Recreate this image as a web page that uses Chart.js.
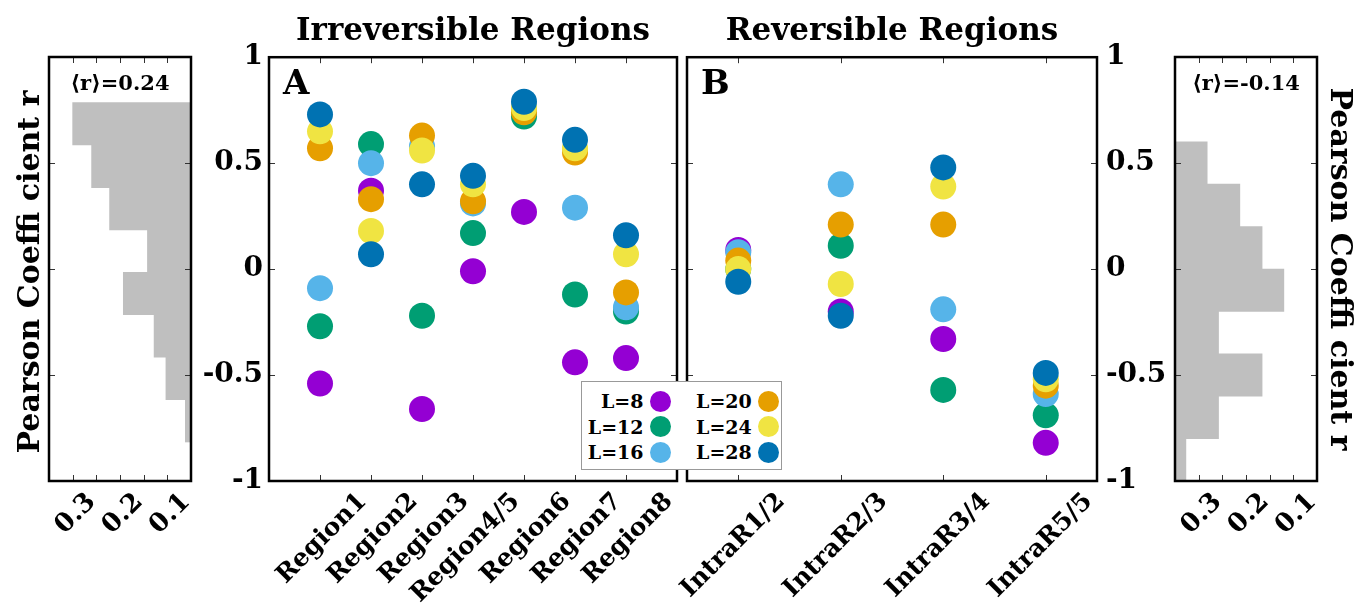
<!DOCTYPE html>
<html>
<head>
<meta charset="utf-8">
<script src="https://cdn.jsdelivr.net/npm/chart.js@4.4.1/dist/chart.umd.min.js"></script>
<style>
  html, body { margin: 0; padding: 0; background: #fff; }
  #wrap { position: relative; width: 1359px; height: 612px; overflow: hidden; }
  #wrap canvas { position: absolute; left: 0; top: 0; }
  #legend { position: absolute; left: 581px; top: 381px; width: 201px; height: 89px; box-sizing: border-box;
            border: 1px solid #999; background: #fff; font: bold 19px "DejaVu Serif"; z-index: 5; }
  #legend .item { position: absolute; height: 25px; display: flex; align-items: center; justify-content: flex-end; }
  #legend .dot { width: 21px; height: 21px; border-radius: 50%; margin-left: 6px; }
</style>
</head>
<body>
<div id="wrap">
  <canvas id="histL" width="1359" height="612"></canvas>
  <canvas id="panelA" width="1359" height="612"></canvas>
  <canvas id="panelB" width="1359" height="612"></canvas>
  <canvas id="histR" width="1359" height="612"></canvas>
  <div id="legend"></div>
</div>
<script>
const regionsA = ['Region1', 'Region2', 'Region3', 'Region4/5', 'Region6', 'Region7', 'Region8'];
const regionsB = ['IntraR1/2', 'IntraR2/3', 'IntraR3/4', 'IntraR5/5'];
const sizes = ['L=8', 'L=12', 'L=16', 'L=20', 'L=24', 'L=28'];
const colors = ['#9400D3', '#009E73', '#56B4E9', '#E69F00', '#F0E442', '#0072B2'];

// irreversible regions, Pearson r per system size
const irrevL8  = [-0.54, 0.37, -0.66, -0.01, 0.27, -0.44, -0.42];
const irrevL12 = [-0.27, 0.59, -0.22, 0.17, 0.72, -0.12, -0.20];
const irrevL16 = [-0.09, 0.50, 0.58, 0.31, 0.76, 0.29, -0.18];
const irrevL20 = [0.57, 0.33, 0.63, 0.32, 0.74, 0.55, -0.11];
const irrevL24 = [0.65, 0.18, 0.56, 0.40, 0.76, 0.57, 0.07];
const irrevL28 = [0.73, 0.07, 0.40, 0.44, 0.79, 0.61, 0.16];

// reversible regions
const revL8  = [0.09, -0.20, -0.33, -0.82];
const revL12 = [0.00, 0.11, -0.57, -0.69];
const revL16 = [0.08, 0.40, -0.19, -0.59];
const revL20 = [0.04, 0.21, 0.21, -0.55];
const revL24 = [0.00, -0.07, 0.39, -0.52];
const revL28 = [-0.06, -0.22, 0.48, -0.49];

// histograms of r (bin centres, bar ends on the reversed axis)
const histLeftBins = [0.685, 0.484, 0.284, 0.084, -0.116, -0.316, -0.516, -0.716];
const histLeftVals = [0.30, 0.26, 0.222, 0.142, 0.193, 0.128, 0.103, 0.062];
const histRightBins = [0.5, 0.3, 0.1, -0.1, -0.3, -0.5, -0.7, -0.9];
const histRightVals = [0.282, 0.213, 0.166, 0.120, 0.258, 0.166, 0.258, 0.327];
const histTicks = [0.1, 0.2, 0.3];
const meanLeft = '⟨r⟩=0.24';
const meanRight = '⟨r⟩=-0.14';
const yTitle = 'Pearson Coeﬃ cient r';

const FAMILY = '"DejaVu Serif", serif';

// box round the plot area, inward ticks, panel letter
const frame = {
  id: 'frame',
  afterDatasetsDraw(chart, args, o) {
    const { ctx, chartArea: a, scales } = chart;
    const x = scales.x, y = scales.y;
    ctx.save();
    ctx.strokeStyle = '#333';
    ctx.lineWidth = 1;
    ctx.beginPath();
    x.ticks.forEach(t => {
      if (t.value <= x.min + 1e-9 || t.value >= x.max - 1e-9) return;
      const p = Math.round(x.getPixelForValue(t.value)) + 0.5;
      ctx.moveTo(p, a.top); ctx.lineTo(p, a.top + 6);
      ctx.moveTo(p, a.bottom); ctx.lineTo(p, a.bottom - 6);
    });
    y.ticks.forEach(t => {
      if (t.value <= y.min + 1e-9 || t.value >= y.max - 1e-9) return;
      const p = Math.round(y.getPixelForValue(t.value)) + 0.5;
      ctx.moveTo(a.left, p); ctx.lineTo(a.left + 6, p);
      ctx.moveTo(a.right, p); ctx.lineTo(a.right - 6, p);
    });
    ctx.stroke();
    ctx.strokeStyle = '#000';
    ctx.lineWidth = 2.5;
    ctx.strokeRect(a.left, a.top, a.right - a.left, a.bottom - a.top);
    if (o.text) {
      ctx.fillStyle = '#000';
      ctx.font = o.font;
      ctx.textBaseline = 'alphabetic';
      if (o.center) {
        ctx.textAlign = 'center';
        ctx.fillText(o.text, (a.left + a.right) / 2, a.top + o.dy);
      } else {
        ctx.textAlign = 'left';
        ctx.fillText(o.text, a.left + o.dx, a.top + o.dy);
      }
    }
    ctx.restore();
  }
};

function scatterConfig(cats, series, title, letter, xmin, xmax, ySide, pad) {
  return {
    type: 'scatter',
    data: {
      datasets: series.map((vals, i) => ({
        label: sizes[i],
        order: sizes.length - i,
        data: vals.map((v, j) => ({ x: j + 1, y: v })),
        backgroundColor: colors[i],
        borderWidth: 0,
        pointRadius: 13,
        pointHoverRadius: 13
      }))
    },
    options: {
      responsive: false,
      animation: false,
      events: [],
      layout: { padding: pad },
      plugins: {
        legend: { display: false },
        tooltip: { enabled: false },
        title: {
          display: true, text: title, fullSize: false, color: '#000',
          font: { family: FAMILY, weight: 'bold', size: 31, lineHeight: 1.2 },
          padding: { top: 0, bottom: 7 }
        },
        frame: { text: letter, font: 'bold 34px ' + FAMILY, dx: 14, dy: 37 }
      },
      scales: {
        x: {
          type: 'linear', min: xmin, max: xmax,
          afterBuildTicks: s => { s.ticks = cats.map((c, i) => ({ value: i + 1 })); },
          ticks: {
            callback: v => cats[v - 1], autoSkip: false, minRotation: 45, maxRotation: 45,
            labelOffset: 43, color: '#000', padding: 6,
            font: { family: FAMILY, weight: 'bold', size: 25 }
          },
          grid: { display: false, drawTicks: false },
          border: { display: false },
          afterFit: s => { s.height = 131; }
        },
        y: {
          type: 'linear', position: ySide, min: -1, max: 1,
          ticks: {
            stepSize: 0.5, color: '#000', padding: ySide === 'left' ? 6 : 9,
            font: { family: FAMILY, weight: 'bold', size: 28 },
            callback: v => String(Number(v.toFixed(2)))
          },
          grid: { display: false, drawTicks: false },
          border: { display: false },
          afterFit: s => { s.width = 70; }
        }
      }
    },
    plugins: [frame]
  };
}

function histConfig(bins, vals, base, side, mean, pad, title, titlePad) {
  return {
    type: 'bar',
    data: {
      datasets: [{
        data: bins.map((b, i) => ({ y: b, x: [base, vals[i]] })),
        backgroundColor: '#bfbfbf',
        borderWidth: 0,
        barPercentage: 1,
        categoryPercentage: 1
      }]
    },
    options: {
      indexAxis: 'y',
      responsive: false,
      animation: false,
      events: [],
      layout: { padding: pad },
      plugins: {
        legend: { display: false },
        tooltip: { enabled: false },
        frame: { text: mean, font: 'bold 21px ' + FAMILY, center: true, dy: 33 }
      },
      scales: {
        x: {
          type: 'linear', reverse: true, min: 0.05, max: 0.35,
          ticks: {
            stepSize: 0.05, autoSkip: false, minRotation: 45, maxRotation: 45, color: '#000',
            padding: 6, labelOffset: 19,
            font: { family: FAMILY, weight: 'bold', size: 26 },
            callback: v => {
              const t = histTicks.find(h => Math.abs(h - v) < 1e-6);
              return t === undefined ? '' : t.toFixed(1);
            }
          },
          grid: { display: false, drawTicks: false },
          border: { display: false },
          afterFit: s => { s.height = 131; }
        },
        y: {
          type: 'linear', position: side, min: -1, max: 1, offset: false,
          ticks: { display: false, stepSize: 0.5 },
          grid: { display: false, drawTicks: false, offset: false },
          border: { display: false },
          title: {
            display: true, text: title, color: '#000',
            font: { family: FAMILY, weight: 'bold', size: 30, lineHeight: 1 },
            padding: { top: titlePad, bottom: 0 }
          },
          afterFit: s => { s.width = side === 'left' ? 49 : 42; }
        }
      }
    },
    plugins: [frame]
  };
}

// left histogram: plot area 49..191 x 57..481
new Chart(document.getElementById('histL'),
  histConfig(histLeftBins, histLeftVals, 0.05, 'left', meanLeft,
    { left: 0, right: 1359 - 191, top: 57, bottom: 0 }, yTitle + '\u2009', 16));

// panel A: plot area 269..677
new Chart(document.getElementById('panelA'),
  scatterConfig(regionsA, [irrevL8, irrevL12, irrevL16, irrevL20, irrevL24, irrevL28],
    'Irreversible Regions', 'A', 0, 8, 'left',
    { left: 269 - 70, right: 1359 - 677, top: 13, bottom: 0 }));

// panel B: plot area 687..1097
new Chart(document.getElementById('panelB'),
  scatterConfig(regionsB, [revL8, revL12, revL16, revL20, revL24, revL28],
    'Reversible Regions', 'B', 0.5, 4.5, 'right',
    { left: 687, right: 1359 - 1097 - 70, top: 13, bottom: 0 }));

// right histogram: plot area 1175..1317
new Chart(document.getElementById('histR'),
  histConfig(histRightBins, histRightVals, 0.35, 'right', meanRight,
    { left: 1175, right: 0, top: 57, bottom: 0 }, yTitle, 5));

// legend, two columns of three
const legend = document.getElementById('legend');
sizes.forEach((s, i) => {
  const col = Math.floor(i / 3), row = i % 3;
  const item = document.createElement('div');
  item.className = 'item';
  item.style.top = (6.5 + row * 25.5) + 'px';
  item.style.left = (col === 0 ? 0 : 100) + 'px';
  item.style.width = (col === 0 ? 88.5 : 96.8) + 'px';
  const lab = document.createElement('span');
  lab.textContent = s;
  const dot = document.createElement('span');
  dot.className = 'dot';
  dot.style.background = colors[i];
  item.appendChild(lab);
  item.appendChild(dot);
  legend.appendChild(item);
});
</script>
</body>
</html>
